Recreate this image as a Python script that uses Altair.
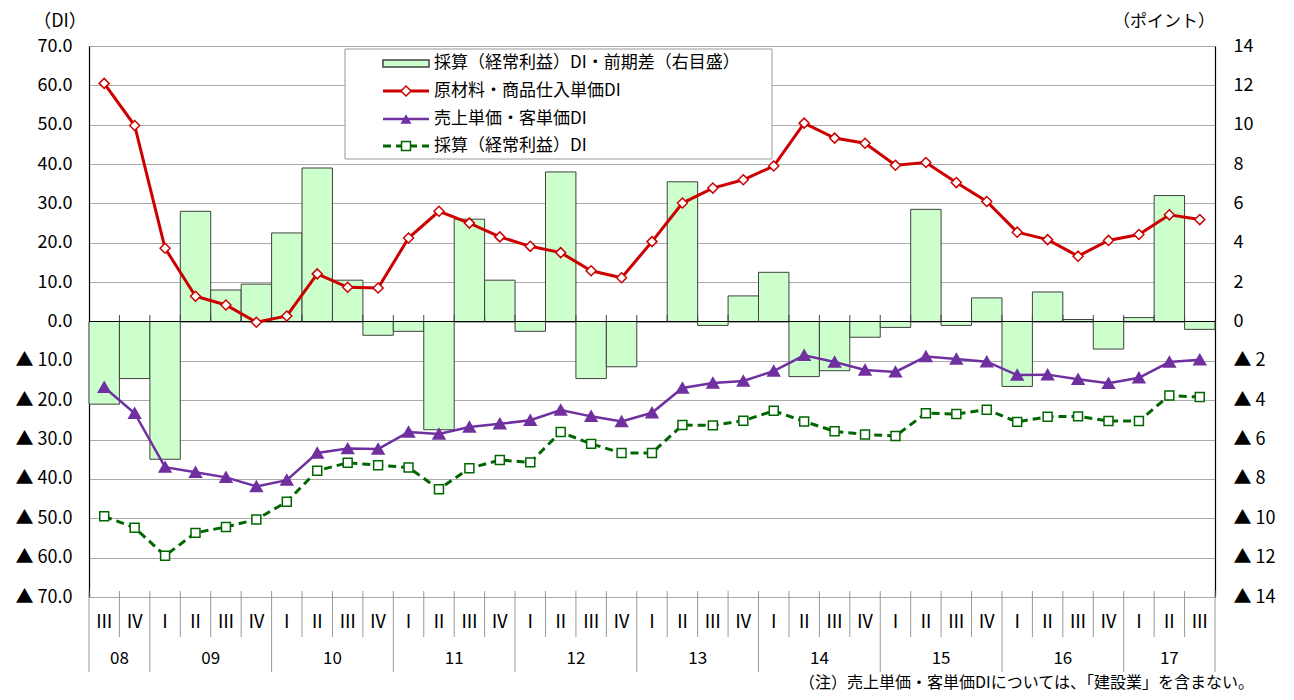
import altair as alt
import pandas as pd

FONT = "Noto Sans CJK JP"

# ---------------- data ----------------
quarters = ["Ⅲ", "Ⅳ",
            "Ⅰ", "Ⅱ", "Ⅲ", "Ⅳ", "Ⅰ", "Ⅱ", "Ⅲ", "Ⅳ",
            "Ⅰ", "Ⅱ", "Ⅲ", "Ⅳ", "Ⅰ", "Ⅱ", "Ⅲ", "Ⅳ",
            "Ⅰ", "Ⅱ", "Ⅲ", "Ⅳ", "Ⅰ", "Ⅱ", "Ⅲ", "Ⅳ",
            "Ⅰ", "Ⅱ", "Ⅲ", "Ⅳ", "Ⅰ", "Ⅱ", "Ⅲ", "Ⅳ",
            "Ⅰ", "Ⅱ", "Ⅲ"]
years = ["08", "09", "10", "11", "12", "13", "14", "15", "16", "17"]
year_quarter_counts = [2, 4, 4, 4, 4, 4, 4, 4, 4, 3]

# 採算（経常利益）DI・前期差（右目盛） (points)
profit_diff = [-4.2, -2.9, -7.0, 5.6, 1.6, 1.9, 4.5, 7.8, 2.1, -0.7,
               -0.5, -5.5, 5.2, 2.1, -0.5, 7.6, -2.9, -2.3, 0.0, 7.1,
               -0.2, 1.3, 2.5, -2.8, -2.5, -0.8, -0.3, 5.7, -0.2, 1.2,
               -3.3, 1.5, 0.1, -1.4, 0.2, 6.4, -0.4]
# 原材料・商品仕入単価DI
purchase_price = [60.5, 49.8, 18.6, 6.4, 4.2, -0.2, 1.4, 12.1, 8.7, 8.5,
                  21.2, 28.0, 25.0, 21.5, 19.1, 17.5, 12.9, 11.1, 20.3, 30.1,
                  33.9, 36.0, 39.5, 50.4, 46.6, 45.3, 39.7, 40.4, 35.3, 30.5,
                  22.7, 20.8, 16.6, 20.6, 22.1, 27.1, 25.9]
# 売上単価・客単価DI
sales_price = [-16.7, -23.3, -37.0, -38.3, -39.6, -41.9, -40.3, -33.4, -32.3, -32.4,
               -28.1, -28.6, -26.8, -26.0, -25.1, -22.5, -24.1, -25.4, -23.2, -16.9,
               -15.6, -15.1, -12.6, -8.6, -10.3, -12.3, -12.8, -8.9, -9.5, -10.2,
               -13.6, -13.5, -14.7, -15.7, -14.3, -10.3, -9.7]
# 採算（経常利益）DI
profit_di = [-49.5, -52.4, -59.5, -53.7, -52.2, -50.3, -45.8, -37.9, -35.9, -36.5,
             -37.1, -42.6, -37.3, -35.2, -35.8, -28.1, -31.1, -33.4, -33.4, -26.3,
             -26.4, -25.2, -22.7, -25.4, -27.9, -28.7, -29.1, -23.3, -23.5, -22.4,
             -25.5, -24.2, -24.1, -25.3, -25.3, -18.8, -19.2]

legend_labels = ["採算（経常利益）DI・前期差（右目盛）",
                 "原材料・商品仕入単価DI",
                 "売上単価・客単価DI",
                 "採算（経常利益）DI"]
left_title = "（DI）"
right_title = "（ポイント）"
note = "（注）売上単価・客単価DIについては、「建設業」を含まない。"

n = len(quarters)
df = pd.DataFrame({
    "x0": list(range(n)),
    "x1": [i + 1 for i in range(n)],
    "xc": [i + 0.5 for i in range(n)],
    "q": quarters,
    "bar": profit_diff,
    "red": purchase_price,
    "purple": sales_price,
    "green": profit_di,
})

ystart, yend, ycenter = [], [], []
s = 0
for c in year_quarter_counts:
    ystart.append(s)
    yend.append(s + c)
    ycenter.append(s + c / 2)
    s += c
year_df = pd.DataFrame({"yr": years, "xc": ycenter})
bounds = list(range(n + 1))
year_bounds = sorted(set(ystart + yend))
qsep_df = pd.DataFrame({"b": [b for b in bounds if b not in year_bounds]})
ysep_df = pd.DataFrame({"b": year_bounds})
tick_df = pd.DataFrame({"b": bounds[1:-1]})

# ---------------- scales / axes ----------------
W, H = 1126, 551
xs = alt.Scale(domain=[0, n], nice=False, zero=False)
left_scale = alt.Scale(domain=[-70, 70], nice=False, zero=False)
right_scale = alt.Scale(domain=[-14, 14], nice=False, zero=False)

left_axis = alt.Axis(
    orient="left", values=list(range(-70, 71, 10)),
    labelExpr="datum.value < 0 ? '▲ ' + format(-datum.value, '.1f') : format(datum.value, '.1f')",
    grid=True, gridColor="#555555", gridDash=[1, 1], gridWidth=1,
    ticks=False, domain=True, domainColor="black", domainWidth=1.2,
    labelPadding=17, labelFontSize=18, labelFont=FONT, labelColor="black",
    title=None,
)
right_axis = alt.Axis(
    orient="right", values=list(range(-14, 15, 2)),
    labelExpr="datum.value < 0 ? '▲ ' + format(-datum.value, 'd') : format(datum.value, 'd')",
    grid=False, ticks=False, domain=True, domainColor="black", domainWidth=1.2,
    labelPadding=18, labelFontSize=18, labelFont=FONT, labelColor="black",
    title=None,
)

X = lambda f: alt.X(f, scale=xs, axis=None)
LY = lambda f: alt.Y(f, scale=left_scale, axis=left_axis)

base = alt.Chart(df)

bars = base.mark_bar(fill="#CCFFCC", stroke="#404040", strokeWidth=1).encode(
    x=X("x0:Q"), x2="x1:Q",
    y=alt.Y("bar:Q", scale=right_scale, axis=right_axis), y2=alt.datum(0),
)

zero_rule = base.mark_rule(color="black", strokeWidth=1.2).encode(
    x=alt.value(0), x2=alt.value(W), y=LY("zero:Q")
).transform_calculate(zero="0").transform_filter("datum.x0 == 0")

zero_ticks = alt.Chart(tick_df).mark_rule(color="#444444", strokeWidth=1).encode(
    x=X("b:Q"), y=alt.value(269), y2=alt.value(275.5)
)

red_line = base.mark_line(color="#CC0000", strokeWidth=3).encode(x=X("xc:Q"), y=LY("red:Q"))
red_pts = base.mark_point(shape="diamond", filled=True, fill="white", stroke="#CC0000",
                          strokeWidth=1.5, size=100, opacity=1).encode(x=X("xc:Q"), y=LY("red:Q"))
pur_line = base.mark_line(color="#7030A0", strokeWidth=2.5).encode(x=X("xc:Q"), y=LY("purple:Q"))
pur_pts = base.mark_point(shape="triangle-up", filled=True, fill="#7030A0", stroke="#7030A0",
                          size=120, opacity=1).encode(x=X("xc:Q"), y=LY("purple:Q"))
grn_line = base.mark_line(color="#006600", strokeWidth=3, strokeDash=[8, 5]).encode(
    x=X("xc:Q"), y=LY("green:Q"))
grn_pts = base.mark_point(shape="square", filled=True, fill="white", stroke="#006600",
                          strokeWidth=1.5, size=80, opacity=1).encode(x=X("xc:Q"), y=LY("green:Q"))

# category axis (two rows)
qsep = alt.Chart(qsep_df).mark_rule(color="#999999", strokeWidth=1).encode(
    x=X("b:Q"), y=alt.value(545), y2=alt.value(591))
ysep = alt.Chart(ysep_df).mark_rule(color="#999999", strokeWidth=1).encode(
    x=X("b:Q"), y=alt.value(545), y2=alt.value(626))
qlabels = base.mark_text(baseline="middle", fontSize=18, font=FONT, color="black").encode(
    x=X("xc:Q"), y=alt.value(577), text="q:N")
ylabels = alt.Chart(year_df).mark_text(baseline="middle", fontSize=17, font=FONT, color="black").encode(
    x=X("xc:Q"), y=alt.value(613), text="yr:N")

one = pd.DataFrame({"a": [0]})
note_mark = alt.Chart(one).mark_text(align="right", baseline="middle", fontSize=16,
                                      font=FONT, color="black", text=note).encode(
    x=alt.value(1165), y=alt.value(637))
ltitle = alt.Chart(one).mark_text(align="center", baseline="middle", fontSize=18,
                                   font=FONT, color="black", text=left_title).encode(
    x=alt.value(-29), y=alt.value(-24))
rtitle = alt.Chart(one).mark_text(align="center", baseline="middle", fontSize=17,
                                   font=FONT, color="black", text=right_title).encode(
    x=alt.value(1075), y=alt.value(-24))

# legend (drawn inside the plot area)
leg = [alt.Chart(one).mark_rect(fill="white", stroke="#999999", strokeWidth=1).encode(
    x=alt.value(256), x2=alt.value(683), y=alt.value(3), y2=alt.value(113))]
rows_y = [17, 45, 73, 100]
leg.append(alt.Chart(one).mark_rect(fill="#CCFFCC", stroke="#404040", strokeWidth=1.5).encode(
    x=alt.value(294), x2=alt.value(340), y=alt.value(14), y2=alt.value(21)))
leg.append(alt.Chart(one).mark_rule(color="#CC0000", strokeWidth=3).encode(
    x=alt.value(294), x2=alt.value(340), y=alt.value(rows_y[1])))
leg.append(alt.Chart(one).mark_point(shape="diamond", filled=True, fill="white", stroke="#CC0000",
                                     strokeWidth=1.5, size=100, opacity=1).encode(
    x=alt.value(317), y=alt.value(rows_y[1])))
leg.append(alt.Chart(one).mark_rule(color="#7030A0", strokeWidth=2.5).encode(
    x=alt.value(294), x2=alt.value(340), y=alt.value(rows_y[2])))
leg.append(alt.Chart(one).mark_point(shape="triangle-up", filled=True, fill="#7030A0",
                                     size=120, opacity=1).encode(
    x=alt.value(317), y=alt.value(rows_y[2])))
leg.append(alt.Chart(one).mark_rule(color="#006600", strokeWidth=3, strokeDash=[8, 5]).encode(
    x=alt.value(294), x2=alt.value(340), y=alt.value(rows_y[3])))
leg.append(alt.Chart(one).mark_point(shape="square", filled=True, fill="white", stroke="#006600",
                                     strokeWidth=1.5, size=80, opacity=1).encode(
    x=alt.value(317), y=alt.value(rows_y[3])))
for lab, yy in zip(legend_labels, rows_y):
    leg.append(alt.Chart(one).mark_text(align="left", baseline="middle", fontSize=17,
                                        font=FONT, color="black", text=lab).encode(
        x=alt.value(345), y=alt.value(yy)))

left_layer = alt.layer(zero_rule, zero_ticks, grn_line, grn_pts, pur_line, pur_pts,
                       red_line, red_pts, qsep, ysep, qlabels, ylabels, note_mark,
                       ltitle, rtitle, *leg)

chart = alt.layer(bars, left_layer).resolve_scale(y="independent").properties(
    width=W, height=H,
    autosize=alt.AutoSizeParams(type="none"),
    padding={"left": 81, "top": 38, "right": 71, "bottom": 95},
    background="white",
).configure_view(stroke=None)

chart.save("out.html", embed_options={"renderer": "svg", "actions": False})
